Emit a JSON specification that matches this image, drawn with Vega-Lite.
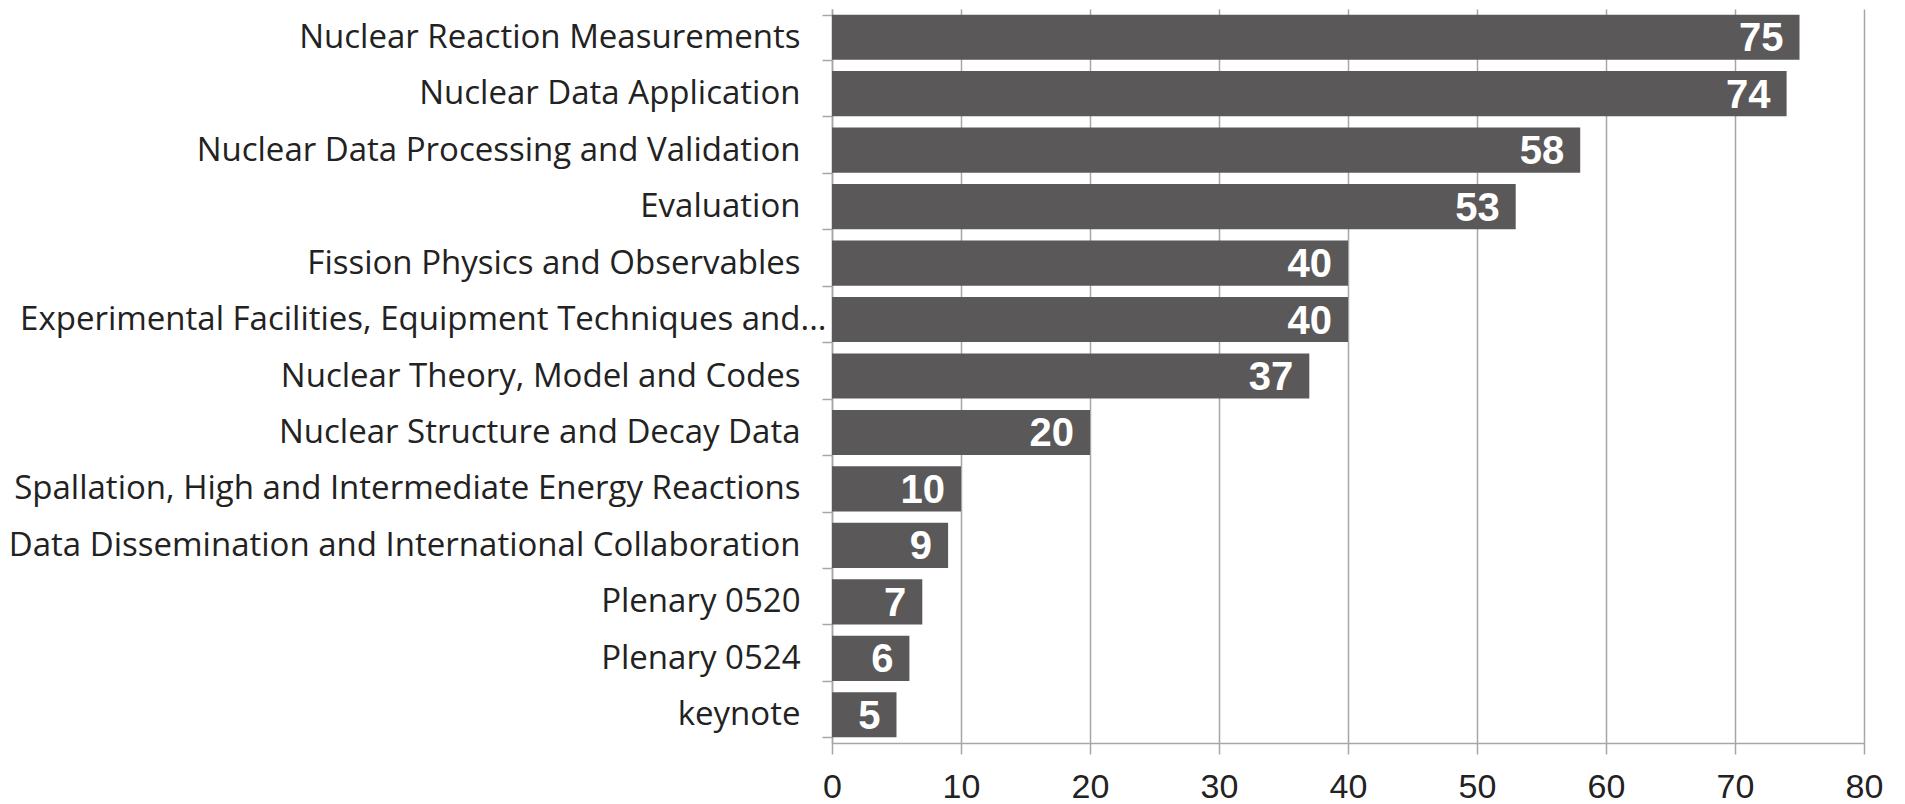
{
  "$schema": "https://vega.github.io/schema/vega-lite/v6.json",
  "autosize": "none",
  "width": 1032,
  "height": 734,
  "padding": {"left": 832, "top": 9, "right": 41, "bottom": 61},
  "background": "white",
  "data": {"values": [
    {"topic": "Nuclear Reaction Measurements", "count": 75},
    {"topic": "Nuclear Data Application", "count": 74},
    {"topic": "Nuclear Data Processing and Validation", "count": 58},
    {"topic": "Evaluation", "count": 53},
    {"topic": "Fission Physics and Observables", "count": 40},
    {"topic": "Experimental Facilities, Equipment Techniques and...", "count": 40},
    {"topic": "Nuclear Theory, Model and Codes", "count": 37},
    {"topic": "Nuclear Structure and Decay Data", "count": 20},
    {"topic": "Spallation, High and Intermediate Energy Reactions", "count": 10},
    {"topic": "Data Dissemination and International Collaboration", "count": 9},
    {"topic": "Plenary 0520", "count": 7},
    {"topic": "Plenary 0524", "count": 6},
    {"topic": "keynote", "count": 5}
  ]},
  "config": {"view": {"stroke": null}},
  "encoding": {
    "y": {
      "field": "topic", "type": "nominal", "sort": null,
      "scale": {"paddingInner": 0.2, "paddingOuter": 0.1},
      "axis": {
        "title": null,
        "tickBand": "extent",
        "domainColor": "#a6a6a6", "domainWidth": 1.5,
        "tickColor": "#a6a6a6", "tickWidth": 1.5, "tickSize": 10,
        "labelFont": "Open Sans", "labelFontSize": 33, "labelColor": "#222222",
        "labelLimit": 1000,
        "labelPadding": {"condition": {"test": "datum.value === 'Experimental Facilities, Equipment Techniques and...'", "value": -4}, "value": 22}
      }
    },
    "x": {
      "field": "count", "type": "quantitative",
      "scale": {"domain": [0, 80], "nice": false},
      "axis": {
        "title": null, "values": [0,10,20,30,40,50,60,70,80],
        "labelOverlap": false, "labelFlush": false,
        "grid": true, "gridColor": "#a6a6a6", "gridWidth": 1.5,
        "domainColor": "#a6a6a6", "domainWidth": 1.5,
        "tickColor": "#a6a6a6", "tickWidth": 1.5, "tickSize": 11,
        "labelFont": "Liberation Sans", "labelFontSize": 34, "labelColor": "#222222",
        "labelPadding": 16
      }
    }
  },
  "layer": [
    {"mark": {"type": "bar", "color": "#5a5859"}},
    {
      "mark": {"type": "text", "align": "right", "baseline": "middle", "dx": -16, "dy": 2,
               "font": "Liberation Sans", "fontWeight": "bold", "fontSize": 40, "color": "white"},
      "encoding": {"text": {"field": "count", "type": "quantitative"}}
    }
  ]
}
